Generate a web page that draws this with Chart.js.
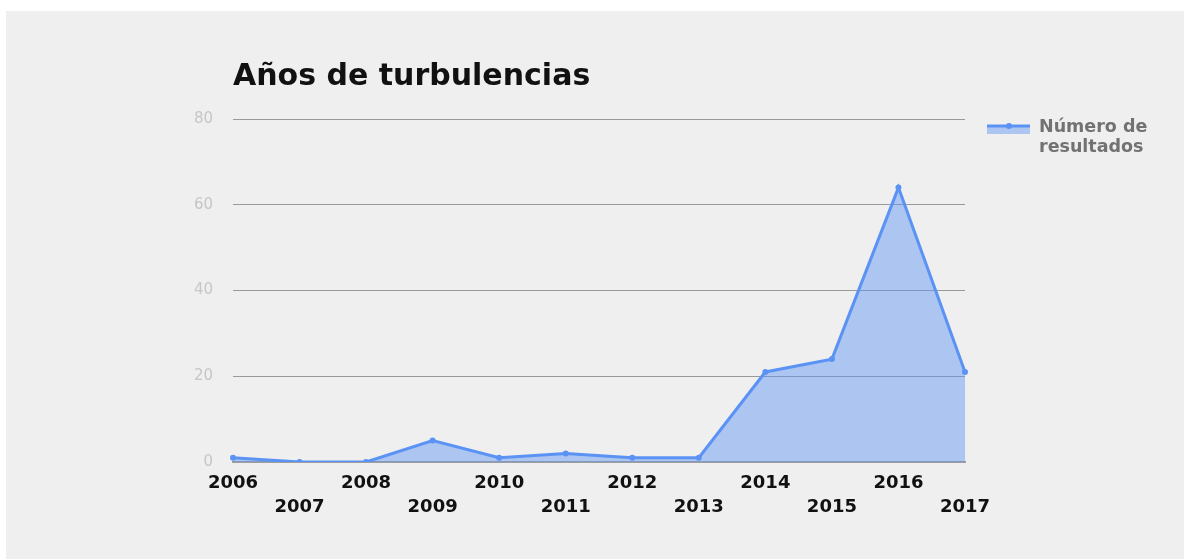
<!DOCTYPE html>
<html>
<head>
<meta charset="utf-8">
<script src="https://cdn.jsdelivr.net/npm/chart.js@4.4.1/dist/chart.umd.min.js"></script>
<style>
  html, body { margin: 0; padding: 0; background: #ffffff; }
  #wrap { position: relative; width: 1184px; height: 559px; }
</style>
</head>
<body>
<div id="wrap"><canvas id="chart" width="1184" height="559"></canvas></div>
<script>
  // datos
  const titulo = 'Años de turbulencias';
  const anios = ['2006', '2007', '2008', '2009', '2010', '2011', '2012', '2013', '2014', '2015', '2016', '2017'];
  const resultados = [1, 0, 0, 5, 1, 2, 1, 1, 21, 24, 64, 21];
  const nombreSerie = ['Número de', 'resultados'];
  const yTicks = [0, 20, 40, 60, 80];

  const azul = '#5b93f5';
  const relleno = 'rgba(91, 147, 245, 0.45)';
  const fuente = "'DejaVu Sans', sans-serif";

  // fondo gris, titulo y leyenda
  const decoracion = {
    id: 'decoracion',
    beforeDraw(chart) {
      const ctx = chart.ctx;
      ctx.save();
      ctx.fillStyle = '#efefef';
      ctx.fillRect(6, 11, chart.width - 6, chart.height - 11);
      ctx.restore();
    },
    afterDraw(chart) {
      const ctx = chart.ctx;
      const area = chart.chartArea;
      ctx.save();
      ctx.textBaseline = 'alphabetic';
      ctx.textAlign = 'left';
      ctx.fillStyle = '#111111';
      ctx.font = 'bold 30px ' + fuente;
      ctx.fillText(titulo, area.left, 85);

      // marcador de la leyenda
      ctx.fillStyle = relleno;
      ctx.fillRect(987, 126, 43, 8);
      ctx.strokeStyle = azul;
      ctx.lineWidth = 3;
      ctx.beginPath();
      ctx.moveTo(987, 126);
      ctx.lineTo(1030, 126);
      ctx.stroke();
      ctx.fillStyle = azul;
      ctx.beginPath();
      ctx.arc(1009, 126, 3, 0, Math.PI * 2);
      ctx.fill();

      ctx.fillStyle = '#727272';
      ctx.font = 'bold 17.5px ' + fuente;
      nombreSerie.forEach((t, i) => ctx.fillText(t, 1039, 132 + i * 20));
      ctx.restore();
    }
  };

  const ctx = document.getElementById('chart').getContext('2d');

  new Chart(ctx, {
    type: 'line',
    data: {
      labels: anios,
      datasets: [{
        label: nombreSerie.join(' '),
        data: resultados,
        borderColor: azul,
        backgroundColor: relleno,
        fill: 'origin',
        borderWidth: 3,
        tension: 0,
        pointRadius: 3,
        pointBackgroundColor: azul,
        pointBorderWidth: 0
      }]
    },
    options: {
      responsive: false,
      animation: false,
      layout: { padding: { top: 119, right: 219, left: 0, bottom: 0 } },
      plugins: {
        legend: { display: false },
        title: { display: false },
        tooltip: { enabled: false }
      },
      scales: {
        x: {
          offset: false,
          grid: { display: false, drawTicks: false },
          border: { display: true, color: '#9e9e9e', width: 2 },
          ticks: {
            autoSkip: false,
            maxRotation: 0,
            minRotation: 0,
            padding: 9,
            color: '#111111',
            font: { family: fuente, size: 18, weight: 'bold', lineHeight: 1.333 },
            callback: (v, i) => i % 2 ? ['', anios[i]] : anios[i]
          },
          afterFit: s => { s.height = 97; }
        },
        y: {
          min: yTicks[0],
          max: yTicks[yTicks.length - 1],
          afterBuildTicks: s => { s.ticks = yTicks.map(v => ({ value: v })); },
          grid: { color: '#9a9a9a', lineWidth: 1, drawTicks: false },
          border: { display: false },
          ticks: {
            padding: 20,
            color: '#c6c6c6',
            font: { family: fuente, size: 15 }
          },
          afterFit: s => { s.width = 233; }
        }
      }
    },
    plugins: [decoracion]
  });
</script>
</body>
</html>
